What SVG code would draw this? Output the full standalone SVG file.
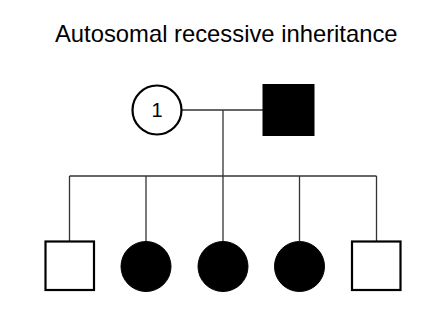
<svg xmlns="http://www.w3.org/2000/svg" width="445" height="311" viewBox="0 0 445 311">
<style>
.line{stroke:#333;stroke-width:1.3;fill:none}
.open{fill:#fff;stroke:#000;stroke-width:2.2}
.aff{fill:#000;stroke:#000;stroke-width:1}
.t{font-family:"Liberation Sans",Arial,sans-serif;fill:#000}
</style>
<rect width="445" height="311" fill="#fff"/>
<text class="t" x="55" y="42" font-size="23.8">Autosomal recessive inheritance</text>
<g id="connectors">
<line class="line" x1="181" y1="110" x2="263" y2="110"/>
<line class="line" x1="223" y1="110" x2="223" y2="176"/>
<line class="line" x1="69.5" y1="176" x2="376.5" y2="176"/>
<line class="line" x1="69.5" y1="176" x2="69.5" y2="241"/>
<line class="line" x1="146" y1="176" x2="146" y2="241"/>
<line class="line" x1="223" y1="176" x2="223" y2="241"/>
<line class="line" x1="299.5" y1="176" x2="299.5" y2="241"/>
<line class="line" x1="376.5" y1="176" x2="376.5" y2="241"/>
</g>
<g id="mother">
<circle class="open" cx="157" cy="110" r="24.5"/>
<text class="t" x="157" y="116.5" font-size="20" text-anchor="middle">1</text>
</g>
<g id="father">
<rect class="aff" x="263" y="84.5" width="51" height="51"/>
</g>
<g id="child1"><rect class="open" x="45.5" y="241.5" width="48.5" height="48.5"/></g>
<g id="child2"><circle class="aff" cx="146" cy="266.5" r="25"/></g>
<g id="child3"><circle class="aff" cx="223" cy="266.5" r="25"/></g>
<g id="child4"><circle class="aff" cx="299.5" cy="266.5" r="25"/></g>
<g id="child5"><rect class="open" x="352" y="241.5" width="48.5" height="48.5"/></g>
</svg>
